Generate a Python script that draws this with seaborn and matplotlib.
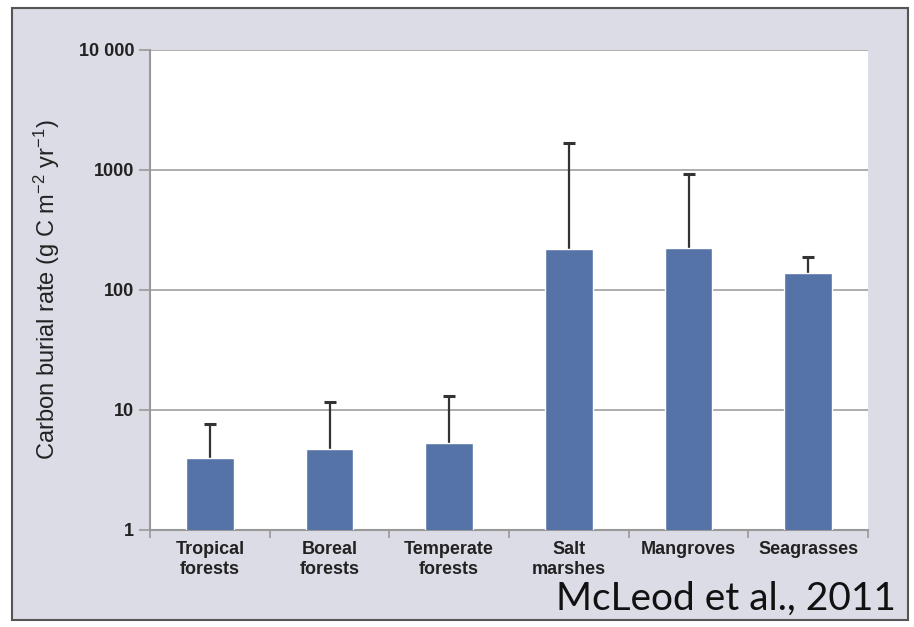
import numpy as np
import pandas as pd
import matplotlib.pyplot as plt
import seaborn as sns
from matplotlib.patches import Rectangle
from matplotlib.ticker import FixedLocator, NullFormatter

categories = ["Tropical\nforests", "Boreal\nforests", "Temperate\nforests",
              "Salt\nmarshes", "Mangroves", "Seagrasses"]
burial_rate = [4.0, 4.7, 5.3, 218, 226, 138]
upper_error = [7.6, 11.7, 13.1, 1680, 930, 188]

sns.set_theme(style="white")
plt.rcParams['font.family'] = ['Liberation Sans Narrow', 'Liberation Sans', 'DejaVu Sans']
plt.rcParams['mathtext.fontset'] = 'custom'
plt.rcParams['mathtext.rm'] = 'Liberation Sans'
plt.rcParams['mathtext.it'] = 'Liberation Sans'

fig = plt.figure(figsize=(9.14, 6.27), dpi=100, facecolor="white")
# grey panel behind the chart
fig.patches.append(Rectangle((12 / 914, 7 / 627), 896 / 914, 612 / 627,
                             transform=fig.transFigure, facecolor="#dcdce6",
                             edgecolor="#555555", linewidth=1.5, zorder=-5))

ax = fig.add_axes([150 / 914, 97 / 627, 718 / 914, 480 / 627])
df = pd.DataFrame({"cat": categories, "val": burial_rate})
ax.set_yscale("log")
sns.barplot(data=df, x="cat", y="val", color="#5673a8", saturation=1,
            width=0.4, errorbar=None, ax=ax, zorder=3)

err = np.array(upper_error) - np.array(burial_rate)
_, caps, _ = ax.errorbar(np.arange(len(categories)), burial_rate,
                         yerr=[np.zeros(len(err)), err], fmt="none",
                         ecolor="#333333", elinewidth=1.6, capsize=4,
                         capthick=2.2, zorder=2)
caps[0].set_visible(False)  # only the upper cap

ax.set_ylim(1, 10000)
ax.set_xlim(-0.5, len(categories) - 0.5)
ax.set_facecolor("white")
ax.set_yticks([1, 10, 100, 1000, 10000])
ax.set_yticklabels(["1", "10", "100", "1000", "10 000"])
ax.yaxis.set_minor_locator(FixedLocator([]))
ax.yaxis.grid(True, color="#a0a0a0", linewidth=1.2, zorder=1)
ax.set_axisbelow(True)

ax.xaxis.set_minor_locator(FixedLocator(np.arange(-0.5, len(categories), 1.0)))
ax.xaxis.set_minor_formatter(NullFormatter())
ax.tick_params(axis="x", which="major", length=0, pad=8, labelsize=13,
               labelcolor="#222222")
ax.tick_params(axis="x", which="minor", length=6, color="#999999", width=1.2,
               direction="out", bottom=True)
ax.tick_params(axis="y", which="major", length=8, color="#999999", width=1.2,
               direction="out", left=True, labelsize=13, labelcolor="#222222")
for lbl in ax.get_xticklabels() + ax.get_yticklabels():
    lbl.set_fontweight("bold")

for side in ["top", "right"]:
    ax.spines[side].set_visible(False)
for side in ["left", "bottom"]:
    ax.spines[side].set_color("#999999")
    ax.spines[side].set_linewidth(1.5)

ax.set_xlabel("")
ax.set_ylabel(r"Carbon burial rate (g C m$^{-2}$ yr$^{-1}$)", fontsize=17,
              family=["Liberation Sans", "DejaVu Sans"], color="#222222",
              labelpad=12)

fig.text(896 / 914, 10 / 627, "McLeod et al., 2011", ha="right", va="bottom",
         fontsize=28, family=["Lato", "DejaVu Sans"], fontweight="normal",
         color="#111111")

fig.savefig("out.png", dpi=100, facecolor="white")
